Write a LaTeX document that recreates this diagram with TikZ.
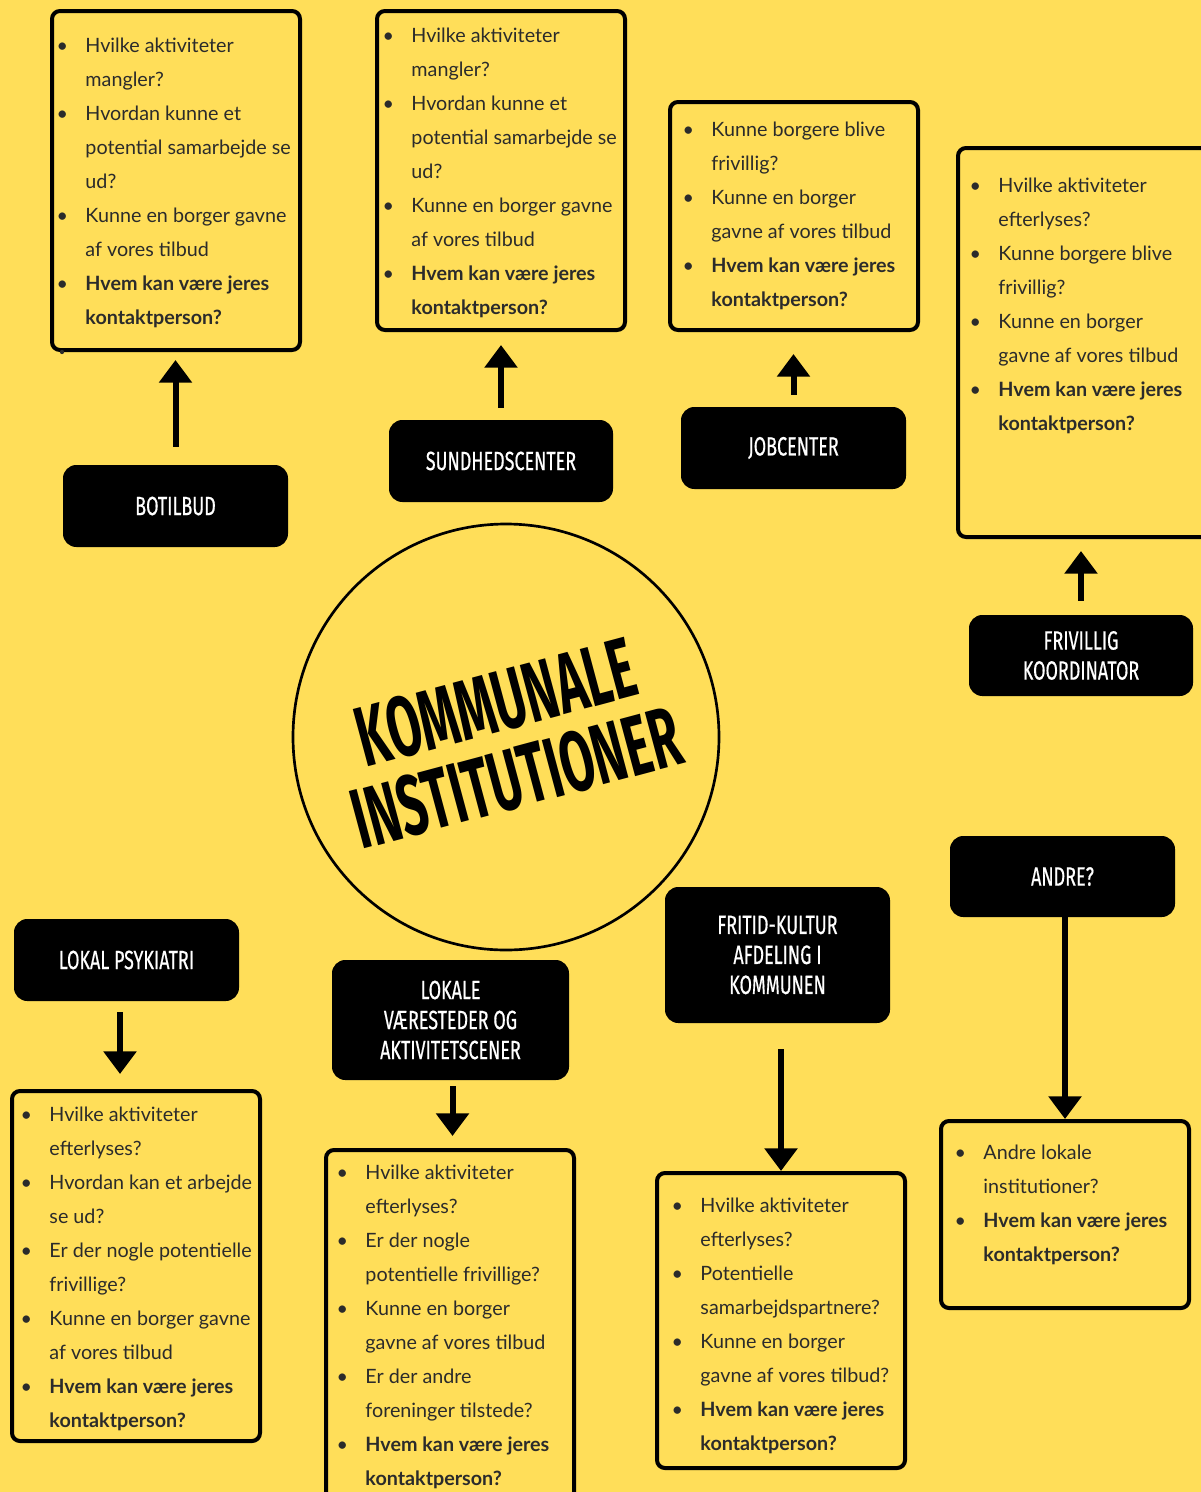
\documentclass[tikz,border=0pt]{standalone}
\usepackage{fontspec}
\setmainfont{Lato}
\newfontfamily\bebas[FakeStretch=0.68,FakeBold=0.5]{Fira Sans}
\newfontfamily\bebasb[FakeStretch=0.575]{Fira Sans}
\usetikzlibrary{arrows.meta}
\definecolor{bg}{HTML}{FFDE59}
\definecolor{txt}{HTML}{2B2B2B}
\newcommand{\bi}[1]{\hbox{\makebox[0pt]{\textbullet}\hspace{17.4pt}#1}}
\newcommand{\ci}[1]{\hbox{\hspace{17.4pt}#1}}
\newcommand{\lines}[1]{\vtop{\baselineskip=25.5pt #1}}
\tikzset{
  qbox/.style={draw=black, line width=3pt, rounded corners=6pt, fill=bg, inner sep=0pt},
  lab/.style={fill=black, rounded corners=10pt, text=white, align=center, inner sep=0pt,
    font=\bebas\fontsize{19.8pt}{22.5pt}\selectfont},
  qtext/.style={anchor=base west, inner sep=0pt, text=txt, font=\fontsize{14.8pt}{25.5pt}\selectfont},
  arr/.style={draw=black, line width=4.5pt, -{Triangle[width=24pt,length=17pt]}},
}
\begin{document}
\begin{tikzpicture}[x=0.75pt, y=-0.75pt]
\useasboundingbox (0,0) rectangle (1201,1492);
\fill[bg] (0,0) rectangle (1201,1492);

% question boxes
\node[qbox, minimum width=186pt, minimum height=254.25pt] (q1) at (176,180.5) {};
\node[qbox, minimum width=186pt, minimum height=239.25pt] (q2) at (501,170.5) {};
\node[qbox, minimum width=186pt, minimum height=171pt] (q3) at (794,216) {};
\node[qbox, minimum width=192.75pt, minimum height=291.75pt] (q4) at (1086.5,342.5) {};
\node[qbox, minimum width=186pt, minimum height=262.5pt] (q5) at (136,1266) {};
\node[qbox, minimum width=186pt, minimum height=262.5pt] (q6) at (450,1325) {};
\node[qbox, minimum width=186pt, minimum height=221.25pt] (q7) at (781,1320.5) {};
\node[qbox, minimum width=186pt, minimum height=140.25pt] (q8) at (1065,1214.5) {};

\fill[txt] (62,352) circle (1.6pt);

% texts
\node[qtext] (t1) at (62,52) {\lines{%
\bi{Hvilke aktiviteter}\ci{mangler?}%
\bi{Hvordan kunne et}\ci{potential samarbejde se}\ci{ud?}%
\bi{Kunne en borger gavne}\ci{af vores tilbud}%
\bi{\bfseries Hvem kan være jeres}\ci{\bfseries kontaktperson?}}};
\node[qtext] (t2) at (388,42) {\lines{%
\bi{Hvilke aktiviteter}\ci{mangler?}%
\bi{Hvordan kunne et}\ci{potential samarbejde se}\ci{ud?}%
\bi{Kunne en borger gavne}\ci{af vores tilbud}%
\bi{\bfseries Hvem kan være jeres}\ci{\bfseries kontaktperson?}}};
\node[qtext] (t3) at (688,136) {\lines{%
\bi{Kunne borgere blive}\ci{frivillig?}%
\bi{Kunne en borger}\ci{gavne af vores tilbud}%
\bi{\bfseries Hvem kan være jeres}\ci{\bfseries kontaktperson?}}};
\node[qtext] (t4) at (975,192) {\lines{%
\bi{Hvilke aktiviteter}\ci{efterlyses?}%
\bi{Kunne borgere blive}\ci{frivillig?}%
\bi{Kunne en borger}\ci{gavne af vores tilbud}%
\bi{\bfseries Hvem kan være jeres}\ci{\bfseries kontaktperson?}}};
\node[qtext] (t5) at (26,1121) {\lines{%
\bi{Hvilke aktiviteter}\ci{efterlyses?}%
\bi{Hvordan kan et arbejde}\ci{se ud?}%
\bi{Er der nogle potentielle}\ci{frivillige?}%
\bi{Kunne en borger gavne}\ci{af vores tilbud}%
\bi{\bfseries Hvem kan være jeres}\ci{\bfseries kontaktperson?}}};
\node[qtext] (t6) at (342,1179) {\lines{%
\bi{Hvilke aktiviteter}\ci{efterlyses?}%
\bi{Er der nogle}\ci{potentielle frivillige?}%
\bi{Kunne en borger}\ci{gavne af vores tilbud}%
\bi{Er der andre}\ci{foreninger tilstede?}%
\bi{\bfseries Hvem kan være jeres}\ci{\bfseries kontaktperson?}}};
\node[qtext] (t7) at (677,1212) {\lines{%
\bi{Hvilke aktiviteter}\ci{efterlyses?}%
\bi{Potentielle}\ci{samarbejdspartnere?}%
\bi{Kunne en borger}\ci{gavne af vores tilbud?}%
\bi{\bfseries Hvem kan være jeres}\ci{\bfseries kontaktperson?}}};
\node[qtext] (t8) at (960,1159) {\lines{%
\bi{Andre lokale}\ci{institutioner?}%
\bi{\bfseries Hvem kan være jeres}\ci{\bfseries kontaktperson?}}};

% black label boxes
\node[lab, minimum width=168.75pt, minimum height=61.5pt] (b1) at (175.5,506) {BOTILBUD};
\node[lab, minimum width=168pt, minimum height=61.5pt] (b2) at (501,461) {SUNDHEDSCENTER};
\node[lab, minimum width=168.75pt, minimum height=61.5pt] (b3) at (793.5,448) {JOBCENTER};
\node[lab, minimum width=168pt, minimum height=60.75pt] (b4) at (1081,655.5) {FRIVILLIG\\KOORDINATOR};
\node[lab, minimum width=168.75pt, minimum height=60.75pt] (b5) at (1062.5,876.5) {ANDRE?};
\node[lab, minimum width=168.75pt, minimum height=102pt] (b6) at (777.5,955) {FRITID-KULTUR\\AFDELING I\\KOMMUNEN};
\node[lab, minimum width=177.75pt, minimum height=90pt] (b7) at (450.5,1020) {LOKALE\\VÆRESTEDER OG\\AKTIVITETSCENER};
\node[lab, minimum width=168.75pt, minimum height=61.5pt] (b8) at (126.5,960) {LOKAL PSYKIATRI};

% central circle
\node[circle, draw=black, line width=2pt, fill=bg, minimum size=319.5pt, inner sep=0pt] (c) at (506,737) {};
\node[rotate=15, align=center, inner sep=0pt, font=\bebasb\bfseries\fontsize{64pt}{58.5pt}\selectfont] (title) at (506,740) {KOMMUNALE\\INSTITUTIONER};

% arrows
\draw[arr, shorten <=13.5pt, shorten >=6pt] (b1.north) -- (b1.north |- q1.south);
\draw[arr, shorten <=9pt, shorten >=9.75pt] (b2.north) -- (b2.north |- q2.south);
\draw[arr, shorten <=9pt, shorten >=16.5pt] (b3.north) -- (b3.north |- q3.south);
\draw[arr, shorten <=10.5pt, shorten >=9pt] (b4.north) -- (b4.north |- q4.south);
\draw[arr] (b5.south -| q8.north) -- (q8.north);
\draw[arr, shorten <=19.5pt] (b6.south -| q7.north) -- (q7.north);
\draw[arr, shorten <=4.5pt, shorten >=9pt] ([xshift=1.5pt]b7.south) -- ([xshift=1.5pt]b7.south |- q6.north);
\draw[arr, shorten <=8.25pt, shorten >=11.25pt] ([xshift=-4.875pt]b8.south) -- ([xshift=-4.875pt]b8.south |- q5.north);
\end{tikzpicture}
\end{document}
